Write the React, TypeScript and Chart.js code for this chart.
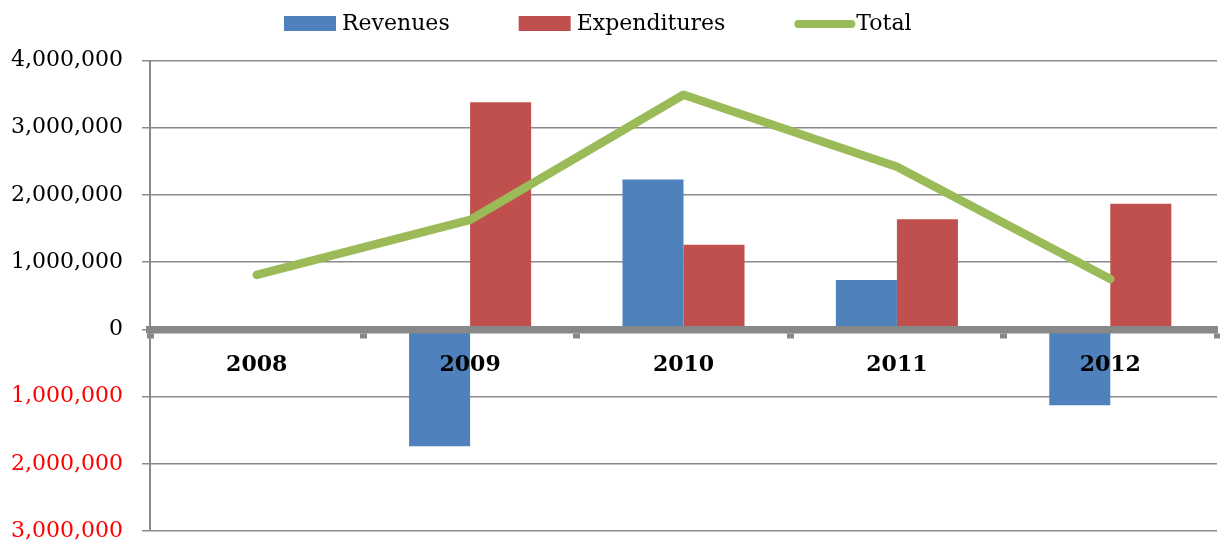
import React, { useEffect, useRef } from "react";
import { Chart, registerables } from "chart.js";

Chart.register(...registerables);

const categories = ["2008", "2009", "2010", "2011", "2012"];
const revenues = [null, -1740000, 2230000, 735000, -1130000];
const expenditures = [null, 3380000, 1260000, 1640000, 1870000];
const totals = [810000, 1630000, 3490000, 2420000, 750000];
const yTicks = [-3000000, -2000000, -1000000, 0, 1000000, 2000000, 3000000, 4000000];

const FONT = "'DejaVu Serif', 'Liberation Serif', serif";
const BLUE = "#4F81BD";
const RED = "#C0504D";
const GREEN = "#9BBB59";
const GRID = "#8A8A8A";

const fmt = (v: number) => Math.abs(v).toLocaleString("en-US");

const legendPlugin = {
  id: "customLegend",
  afterDraw(chart: any) {
    const ctx = chart.ctx;
    ctx.save();
    ctx.font = `22px ${FONT}`;
    ctx.textBaseline = "middle";
    ctx.fillStyle = "#000";
    const cy = 24;
    let x = 284;
    chart.data.datasets.forEach((ds: any) => {
      if (ds.type === "line") {
        ctx.strokeStyle = ds.borderColor;
        ctx.lineWidth = 8;
        ctx.lineCap = "round";
        ctx.beginPath();
        ctx.moveTo(x + 4, cy);
        ctx.lineTo(x + 57, cy);
        ctx.stroke();
        x += 62;
      } else {
        ctx.fillStyle = ds.backgroundColor;
        ctx.fillRect(x, cy - 8, 52, 15);
        x += 58;
      }
      ctx.fillStyle = "#000";
      ctx.fillText(ds.label, x, cy);
      x += ctx.measureText(ds.label).width + 69;
    });
    ctx.restore();
  },
};

export default function App() {
  const ref = useRef<HTMLCanvasElement | null>(null);
  useEffect(() => {
    if (!ref.current) return;
    const chart = new Chart(ref.current, {
      type: "bar",
      data: {
        labels: categories,
        datasets: [
          {
            type: "bar",
            label: "Revenues",
            data: revenues as any,
            backgroundColor: BLUE,
            order: 2,
          },
          {
            type: "bar",
            label: "Expenditures",
            data: expenditures as any,
            backgroundColor: RED,
            order: 2,
          },
          {
            type: "line",
            label: "Total",
            data: totals,
            borderColor: GREEN,
            backgroundColor: GREEN,
            borderWidth: 8.5,
            borderCapStyle: "round",
            borderJoinStyle: "round",
            pointRadius: 0,
            tension: 0,
            order: 1,
          },
        ] as any,
      },
      plugins: [legendPlugin],
      options: {
        animation: false,
        responsive: false,
        maintainAspectRatio: false,
        devicePixelRatio: 1,
        layout: { padding: { top: 60.5, bottom: 12, left: 0, right: 3 } },
        datasets: {
          bar: { categoryPercentage: 0.572, barPercentage: 1 },
        } as any,
        plugins: {
          legend: { display: false },
          tooltip: { enabled: false },
        },
        scales: {
          x: {
            type: "category",
            position: { y: 0 } as any,
            offset: true,
            afterFit: (scale: any) => {
              scale.height = 0;
              scale.paddingTop = 0;
              scale.paddingBottom = 0;
            },
            grid: {
              offset: true,
              drawOnChartArea: false,
              drawTicks: true,
              tickLength: 5,
              tickWidth: 7,
              tickColor: "#888888",
              z: 1,
            },
            border: { display: true, color: "#888888", width: 7.5, z: 1 },
            ticks: {
              font: { family: FONT, size: 22, weight: "bold" },
              color: "#000",
              padding: 18,
              maxRotation: 0,
              z: 1,
            },
          },
          y: {
            min: -3000000,
            max: 4000000,
            afterFit: (scale: any) => {
              scale.width = 150;
              scale.paddingTop = 0;
              scale.paddingBottom = 0;
            },
            afterBuildTicks: (scale: any) => {
              scale.ticks = yTicks.map((v) => ({ value: v }));
            },
            grid: {
              color: GRID,
              lineWidth: 1.5,
              tickLength: 8,
            },
            border: { display: true, color: GRID, width: 2 },
            ticks: {
              font: { family: FONT, size: 22 },
              color: (c: any) => (c.tick && c.tick.value < 0 ? "#FF0000" : "#000"),
              padding: 19,
              callback: (v: any) => fmt(Number(v)),
            },
          },
        },
      } as any,
    });
    return () => chart.destroy();
  }, []);
  return (
    <div style={{ position: "fixed", left: 0, top: 0, width: 1220, height: 543, background: "#fff" }}>
      <canvas ref={ref} width={1220} height={543} style={{ display: "block", width: 1220, height: 543 }} />
    </div>
  );
}
